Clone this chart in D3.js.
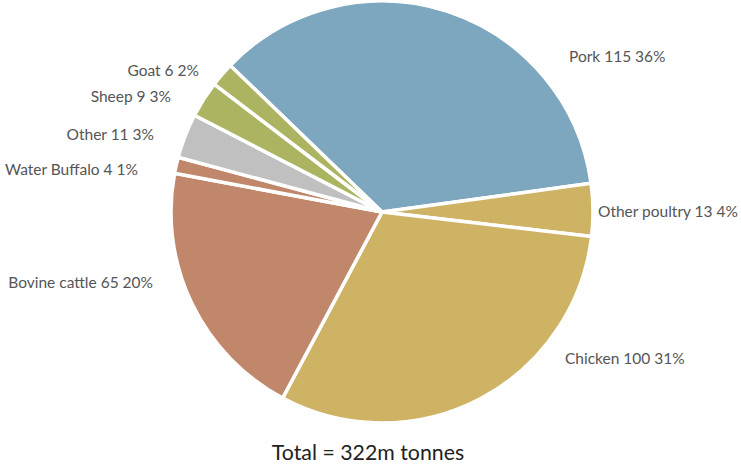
<!DOCTYPE html>
<html><head><meta charset="utf-8">
<script src="https://cdn.jsdelivr.net/npm/d3@7"></script>
<style>body{margin:0;background:#fff}svg{display:block}</style>
</head><body>
<script>
const categories = ["Pork","Other poultry","Chicken","Bovine cattle","Water Buffalo","Other","Sheep","Goat"];
const values = [115,13,100,65,4,11,9,6];
const percents = ["36%","4%","31%","20%","1%","3%","3%","2%"];
const totalLabel = "Total = 322m tonnes";
const colors = ["#7da6bf","#cfb365","#cfb365","#c0876a","#c0876a","#c0c0c0","#acb462","#acb462"];
// label layout: offset from centre (px), anchor
const labelLayout = [[187,-155,"start"],[216,0,"start"],[183,147,"start"],[-229,71,"end"],[-244,-42,"end"],[-228,-77,"end"],[-211,-115,"end"],[-183,-141,"end"]];

const W=741,H=465,cx=382,cy=212,R=211;
const svg=d3.select("body").append("svg").attr("width",W).attr("height",H);
const startA=-46*Math.PI/180;
const pie=d3.pie().sort(null).value(d=>d).startAngle(startA).endAngle(startA+2*Math.PI);
const arc=d3.arc().innerRadius(0).outerRadius(R);
const g=svg.append("g").attr("transform",`translate(${cx},${cy})`);
g.selectAll("path").data(pie(values)).join("path")
 .attr("d",arc).attr("fill",(d,i)=>colors[i]).attr("stroke","#fff").attr("stroke-width",3.5).attr("stroke-linejoin","round");
g.selectAll("text.lbl").data(categories).join("text").attr("class","lbl")
 .attr("x",(d,i)=>labelLayout[i][0]).attr("y",(d,i)=>labelLayout[i][1])
 .attr("dy","0.35em").attr("text-anchor",(d,i)=>labelLayout[i][2])
 .attr("font-family","Lato, sans-serif").attr("font-size",15.5).attr("fill","#555")
 .text((d,i)=>`${d} ${values[i]} ${percents[i]}`);
svg.append("text").attr("x",368).attr("y",453).attr("dy","0.35em").attr("text-anchor","middle")
 .attr("font-family","Lato, sans-serif").attr("font-size",21.3).attr("fill","#222").text(totalLabel);
</script>
</body></html>
